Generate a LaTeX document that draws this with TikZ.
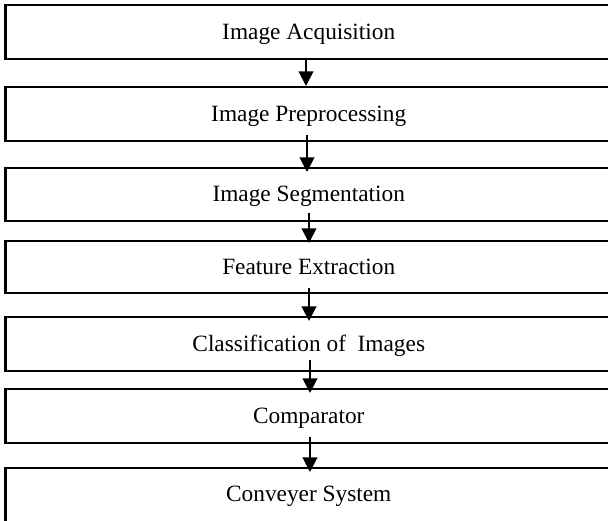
\documentclass[tikz,border=0pt]{standalone}
\usepackage{fontspec}
\setmainfont{Liberation Serif}
\usetikzlibrary{arrows.meta}
\tikzset{
  stagebox/.style={draw, line width=1.6pt, minimum width=454.9pt,
    minimum height={#1*0.75pt}, outer sep=0pt, inner sep=0pt,
    font=\fontsize{17.5}{20}\selectfont, text height=13.5pt, text depth=2.3pt},
  flowarrow/.style={line width=1.5pt, -{Triangle[width=11pt,length=11pt]}}
}
\begin{document}
\begin{tikzpicture}[x=0.75pt,y=-0.75pt]
\useasboundingbox (0,0) rectangle (608,521);
\fill[white] (0,0) rectangle (608,521);
\clip (0,0) rectangle (608,521);
\node[stagebox=54] (b1) at (308.75,32) {Image Acquisition};
\node[stagebox=54] (b2) at (308.75,114) {Image Preprocessing};
\node[stagebox=53] (b3) at (308.75,194.5) {Image Segmentation};
\node[stagebox=52] (b4) at (308.75,267) {Feature Extraction};
\node[stagebox=54] (b5) at (308.75,344) {Classification of~ Images};
\node[stagebox=54] (b6) at (308.75,416) {Comparator};
\node[stagebox=10, anchor=north, text height=25pt, text depth=30pt] (b7) at (308.75,468) {Conveyer System};
\draw[flowarrow] ([shift={(-2.75,-1)}]b1.south) -- ([shift={(-2.75,-1)}]b2.north);
\draw[flowarrow] ([shift={(-1.75,-6)}]b2.south) -- ([shift={(-1.75,4)}]b3.north);
\draw[flowarrow] ([shift={(0.25,-8)}]b3.south) -- ([shift={(0.25,2)}]b4.north);
\draw[flowarrow] ([shift={(0.25,-5)}]b4.south) -- ([shift={(0.25,4)}]b5.north);
\draw[flowarrow] ([shift={(1.25,-11)}]b5.south) -- ([shift={(1.25,4)}]b6.north);
\draw[flowarrow] ([shift={(1.25,-6)}]b6.south) -- ([shift={(1.25,4)}]b7.north);
\end{tikzpicture}
\end{document}
